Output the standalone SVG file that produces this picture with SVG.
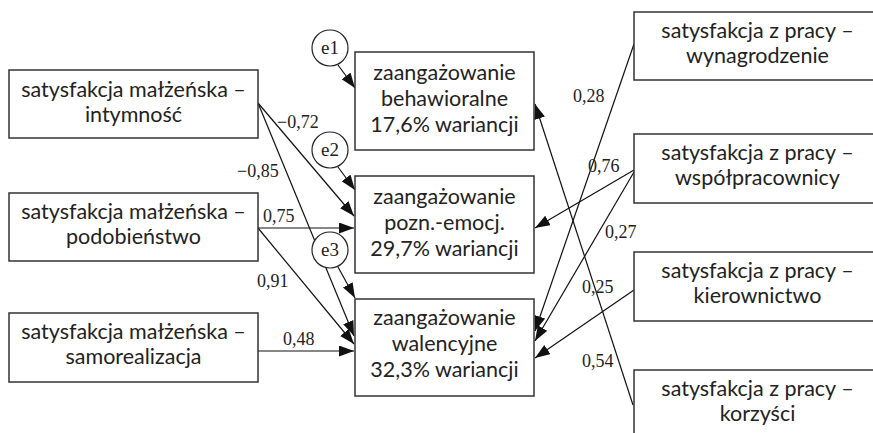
<svg xmlns="http://www.w3.org/2000/svg" width="873" height="433" viewBox="0 0 873 433">
<style>
.box{fill:#fff;stroke:#333;stroke-width:1.5}
.circ{fill:#fff;stroke:#222;stroke-width:1.2}
.t{font-family:Lato,"Liberation Sans",sans-serif;font-size:21.5px;fill:#222;text-anchor:middle}
.n{font-family:"Liberation Serif","DejaVu Serif",serif;font-size:18px;fill:#222}
.e{font-family:"Liberation Serif","DejaVu Serif",serif;font-size:19px;fill:#222;text-anchor:middle}
.c{stroke:#111;stroke-width:1.2;fill:none;marker-end:url(#ah)}
</style>
<defs>
<marker id="ah" markerUnits="userSpaceOnUse" markerWidth="16" markerHeight="12" refX="15" refY="5.5" orient="auto">
<path d="M0,0 L15,5.5 L0,11 z" fill="#111"/>
</marker>
</defs>
<rect width="873" height="433" fill="#fff"/>
<g id="connectors">
<line class="c" x1="258" y1="103" x2="354" y2="216"/>
<line class="c" x1="258" y1="103" x2="354" y2="336"/>
<line class="c" x1="258" y1="228" x2="354" y2="228"/>
<line class="c" x1="258" y1="228" x2="354" y2="344"/>
<line class="c" x1="258" y1="351" x2="354" y2="351"/>
<line class="c" x1="338" y1="65" x2="355" y2="88"/>
<line class="c" x1="338" y1="167" x2="355" y2="190"/>
<line class="c" x1="338" y1="267" x2="355" y2="298"/>
<line class="c" x1="634" y1="44" x2="535" y2="331"/>
<line class="c" x1="634" y1="170" x2="535" y2="228"/>
<line class="c" x1="634" y1="172" x2="535" y2="341"/>
<line class="c" x1="634" y1="290" x2="535" y2="358"/>
<line class="c" x1="633" y1="405" x2="535" y2="104"/>
</g>
<g id="labels">
<text class="n" x="237" y="177">−0,85</text>
<text class="n" x="277" y="128">−0,72</text>
<text class="n" x="263" y="222">0,75</text>
<text class="n" x="257" y="287">0,91</text>
<text class="n" x="283" y="345">0,48</text>
<text class="n" x="573" y="102">0,28</text>
<text class="n" x="588" y="172">0,76</text>
<text class="n" x="605" y="238">0,27</text>
<text class="n" x="582" y="293">0,25</text>
<text class="n" x="582" y="367">0,54</text>
</g>
<g id="intymnosc">
<rect class="box" x="9" y="70" width="249" height="68"/>
<text class="t" x="133.5" y="97">satysfakcja małżeńska –</text>
<text class="t" x="133.5" y="122">intymność</text>
</g>
<g id="podobienstwo">
<rect class="box" x="9" y="193" width="249" height="68"/>
<text class="t" x="133.5" y="219">satysfakcja małżeńska –</text>
<text class="t" x="133.5" y="244">podobieństwo</text>
</g>
<g id="samorealizacja">
<rect class="box" x="9" y="313" width="249" height="69"/>
<text class="t" x="133.5" y="339">satysfakcja małżeńska –</text>
<text class="t" x="133.5" y="364">samorealizacja</text>
</g>
<g id="behawioralne">
<rect class="box" x="355" y="52" width="179" height="98"/>
<text class="t" x="444.5" y="80">zaangażowanie</text>
<text class="t" x="444.5" y="106">behawioralne</text>
<text class="t" x="444.5" y="132">17,6% wariancji</text>
</g>
<g id="poznawcze">
<rect class="box" x="355" y="176" width="179" height="97"/>
<text class="t" x="444.5" y="204">zaangażowanie</text>
<text class="t" x="444.5" y="230">pozn.-emocj.</text>
<text class="t" x="444.5" y="256">29,7% wariancji</text>
</g>
<g id="walencyjne">
<rect class="box" x="355" y="299" width="179" height="97"/>
<text class="t" x="444.5" y="325">zaangażowanie</text>
<text class="t" x="444.5" y="351">walencyjne</text>
<text class="t" x="444.5" y="377">32,3% wariancji</text>
</g>
<g id="e1">
<circle class="circ" cx="330" cy="48" r="18"/>
<text class="e" x="330" y="54">e1</text>
</g>
<g id="e2">
<circle class="circ" cx="330" cy="150" r="18"/>
<text class="e" x="330" y="156">e2</text>
</g>
<g id="e3">
<circle class="circ" cx="330" cy="250" r="18"/>
<text class="e" x="330" y="256">e3</text>
</g>
<g id="wynagrodzenie">
<rect class="box" x="634" y="12" width="250" height="68"/>
<text class="t" x="757.5" y="38">satysfakcja z pracy –</text>
<text class="t" x="757.5" y="63">wynagrodzenie</text>
</g>
<g id="wspolpracownicy">
<rect class="box" x="634" y="134" width="250" height="69"/>
<text class="t" x="757.5" y="160">satysfakcja z pracy –</text>
<text class="t" x="757.5" y="185">współpracownicy</text>
</g>
<g id="kierownictwo">
<rect class="box" x="634" y="252" width="250" height="69"/>
<text class="t" x="757.5" y="278">satysfakcja z pracy –</text>
<text class="t" x="757.5" y="303">kierownictwo</text>
</g>
<g id="korzysci">
<rect class="box" x="634" y="370" width="250" height="80"/>
<text class="t" x="757.5" y="396">satysfakcja z pracy –</text>
<text class="t" x="757.5" y="421">korzyści</text>
</g>
</svg>
